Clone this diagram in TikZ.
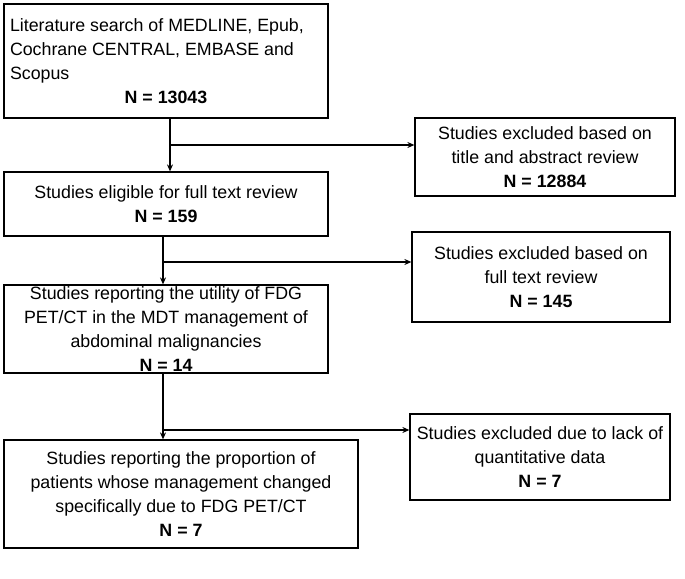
\documentclass[tikz,border=0pt]{standalone}
\usepackage{fontspec}
\setmainfont{Liberation Sans}
\usetikzlibrary{arrows.meta}
\begin{document}
\begin{tikzpicture}[x=1pt,y=-1pt,
  box/.style={draw,line width=1.2pt,inner sep=0pt,align=center,font=\fontsize{17.8}{24}\selectfont},
  arr/.style={line width=1.3pt,-{Stealth[length=7pt,width=6pt]}},
  ln/.style={line width=1.3pt}]
\useasboundingbox (0,0) rectangle (685,578);
\node[box,minimum width=324pt,minimum height=114pt] (b1) at (166,61)
  {\parbox{312pt}{\raggedright Literature search of MEDLINE, Epub,\\ Cochrane CENTRAL, EMBASE and\\ Scopus\par\centering\textbf{N = 13043}}};
\node[box,minimum width=260pt,minimum height=78pt] (r1) at (545,157)
  {Studies excluded based on\\ title and abstract review\\ \textbf{N = 12884}};
\node[box,minimum width=324pt,minimum height=64pt] (b2) at (166,204)
  {Studies eligible for full text review\\ \textbf{N = 159}};
\node[box,minimum width=258pt,minimum height=90pt] (r2) at (541,277)
  {Studies excluded based on\\ full text review\\ \textbf{N = 145}};
\node[box,minimum width=324pt,minimum height=88pt] (b3) at (166,329)
  {Studies reporting the utility of FDG\\ PET/CT in the MDT management of\\ abdominal malignancies\\ \textbf{N = 14}};
\node[box,minimum width=260pt,minimum height=86pt] (r3) at (540,457)
  {Studies excluded due to lack of\\ quantitative data\\ \textbf{N = 7}};
\node[box,minimum width=354pt,minimum height=108pt] (b4) at (181,494)
  {Studies reporting the proportion of\\ patients whose management changed\\ specifically due to FDG PET/CT\\ \textbf{N = 7}};
\coordinate (j1) at (170,145);
\coordinate (j2) at (163,262);
\coordinate (j3) at (163,430);
\draw[arr] (b1.south -| j1) -- (b2.north -| j1);
\draw[arr] (j1) -- (r1.west |- j1);
\draw[arr] (b2.south -| j2) -- (b3.north -| j2);
\draw[arr] (j2) -- (r2.west |- j2);
\draw[arr] (b3.south -| j3) -- (b4.north -| j3);
\draw[arr] (j3) -- (r3.west |- j3);
\end{tikzpicture}
\end{document}
